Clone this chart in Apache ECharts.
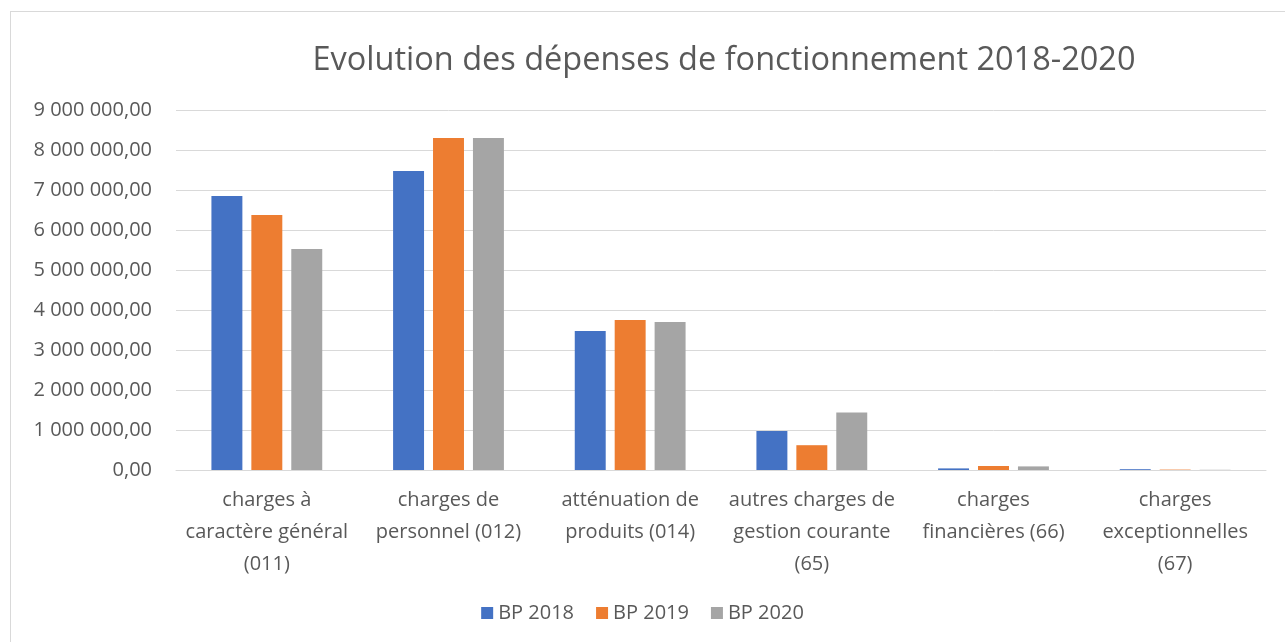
<!DOCTYPE html>
<html><head><meta charset="utf-8">
<script src="https://cdn.jsdelivr.net/npm/echarts@6/dist/echarts.min.js"></script>
<style>
html,body{margin:0;padding:0;background:#fff;}
#frame{position:absolute;left:10px;top:11px;width:1300px;height:700px;border-left:1px solid #d9d9d9;border-top:1px solid #d9d9d9;}
#c{position:absolute;left:0;top:0;width:1285px;height:642px;}
</style></head>
<body>
<div id="frame"></div>
<div id="c"></div>
<script>
const titleText = 'Evolution des dépenses de fonctionnement 2018-2020';
const categories = [
  'charges à\ncaractère général\n(011)',
  'charges de\npersonnel (012)',
  'atténuation de\nproduits (014)',
  'autres charges de\ngestion courante\n(65)',
  'charges\nfinancières (66)',
  'charges\nexceptionnelles\n(67)'
];
const seriesNames = ['BP 2018', 'BP 2019', 'BP 2020'];
const bp2018 = [6850000, 7475000, 3475000, 975000, 40000, 20000];
const bp2019 = [6375000, 8300000, 3750000, 620000, 100000, 10000];
const bp2020 = [5525000, 8300000, 3700000, 1440000, 90000, 5000];
const colors = ['#4472C4', '#ED7D31', '#A5A5A5'];

function fmt(v){
  const s = Math.round(v).toString().replace(/\B(?=(\d{3})+(?!\d))/g, ' ');
  return s + ',00';
}
const chart = echarts.init(document.getElementById('c'));
const font = '"Open Sans", sans-serif';
chart.setOption({
  animation:false,
  title:{text:titleText,left:719,top:39,textAlign:'center',textStyle:{fontFamily:font,fontSize:32.5,fontWeight:'normal',color:'#595959'}},
  color:colors,
  legend:{data:seriesNames,bottom:14,left:'center',itemWidth:12,itemHeight:12,itemGap:22,icon:'rect',
    textStyle:{fontFamily:font,fontSize:20,color:'#595959'}},
  grid:{left:176,right:19,top:110,bottom:172,containLabel:false},
  xAxis:{type:'category',data:categories,axisTick:{show:false},
    axisLine:{lineStyle:{color:'#d9d9d9',width:1}},
    axisLabel:{fontFamily:font,fontSize:20,color:'#595959',lineHeight:32,margin:14,interval:0}},
  yAxis:{type:'value',min:0,max:9000000,interval:1000000,
    axisLabel:{formatter:fmt,fontFamily:font,fontSize:20,color:'#595959',margin:24},
    splitLine:{lineStyle:{color:'#d9d9d9',width:1}},axisLine:{show:false},axisTick:{show:false}},
  series:[
    {name:seriesNames[0],type:'bar',data:bp2018,barGap:'29%',barCategoryGap:'39%'},
    {name:seriesNames[1],type:'bar',data:bp2019},
    {name:seriesNames[2],type:'bar',data:bp2020}
  ]
});
</script>
</body></html>
